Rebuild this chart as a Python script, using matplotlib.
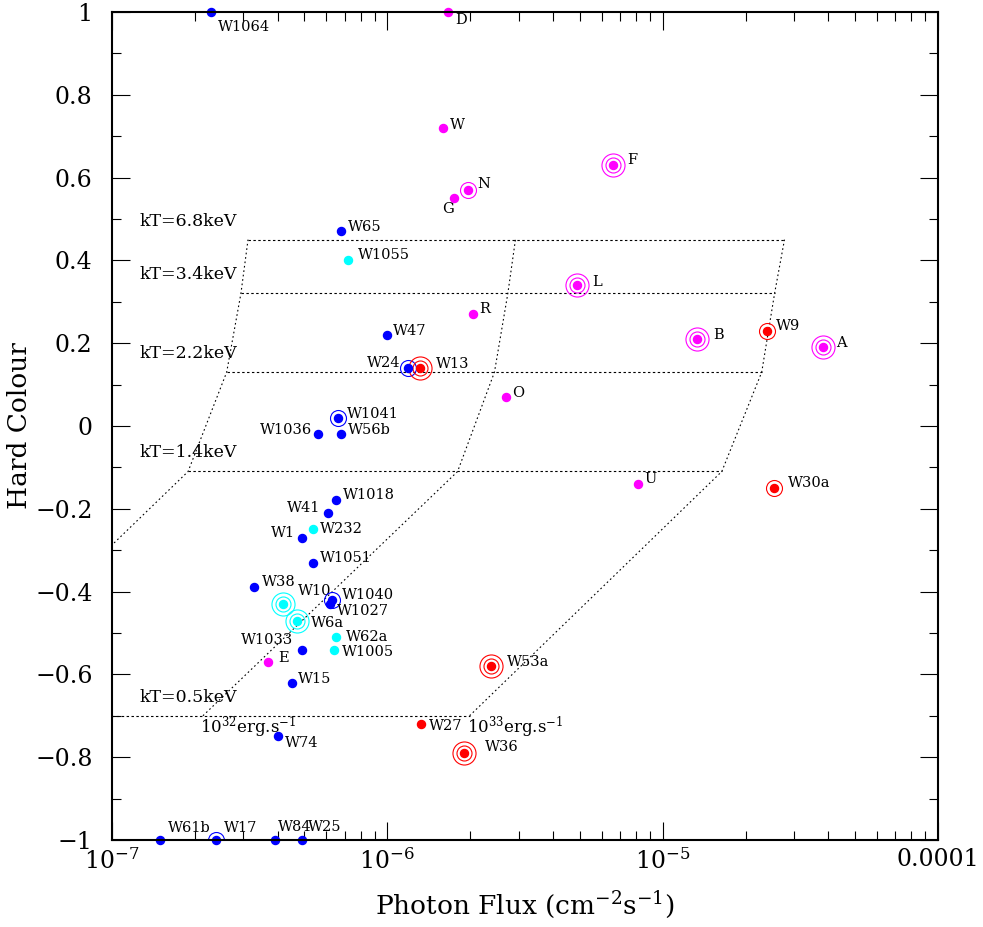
import numpy as np
import matplotlib
matplotlib.use('Agg')
import matplotlib.pyplot as plt
from matplotlib.ticker import FixedLocator, FixedFormatter, MultipleLocator, LogLocator, NullFormatter

plt.rcParams['font.family'] = ['DejaVu Serif']
plt.rcParams['mathtext.fontset'] = 'dejavuserif'

# sources: name, photon flux, hard colour, class colour, number of rings
names = ['W1064', 'D', 'W', 'F', 'N', 'G', 'W65', 'W1055', 'L', 'R', 'W47', 'W9', 'B', 'A',
         'W24', 'W13', 'O', 'W1041', 'W1036', 'W56b', 'U', 'W30a', 'W1018', 'W41', 'W232',
         'W1', 'W1051', 'W38', 'W10', 'W1040', 'W1027', 'W6a', 'W62a', 'W1005', 'W1033',
         'E', 'W53a', 'W15', 'W27', 'W74', 'W36', 'W61b', 'W17', 'W84', 'W25']
flux = [2.29e-7, 1.66e-6, 1.59e-6, 6.58e-6, 1.96e-6, 1.74e-6, 6.78e-7, 7.19e-7, 4.88e-6,
        2.04e-6, 1.0e-6, 2.40e-5, 1.33e-5, 3.81e-5, 1.19e-6, 1.31e-6, 2.69e-6, 6.61e-7,
        5.6e-7, 6.78e-7, 8.11e-6, 2.53e-5, 6.5e-7, 6.08e-7, 5.37e-7, 4.9e-7, 5.37e-7,
        3.28e-7, 4.18e-7, 6.29e-7, 6.2e-7, 4.69e-7, 6.5e-7, 6.4e-7, 4.9e-7, 3.68e-7,
        2.39e-6, 4.5e-7, 1.33e-6, 4.0e-7, 1.90e-6, 1.49e-7, 2.39e-7, 3.9e-7, 4.9e-7]
hc = [1.0, 1.0, 0.72, 0.63, 0.57, 0.55, 0.47, 0.40, 0.34, 0.27, 0.22, 0.23, 0.21, 0.19,
      0.14, 0.14, 0.07, 0.02, -0.02, -0.02, -0.14, -0.15, -0.18, -0.21, -0.25, -0.27,
      -0.33, -0.39, -0.43, -0.42, -0.43, -0.47, -0.51, -0.54, -0.54, -0.57, -0.58,
      -0.62, -0.72, -0.75, -0.79, -1.0, -1.0, -1.0, -1.0]
group = ['b', 'm', 'm', 'm', 'm', 'm', 'b', 'c', 'm', 'm', 'b', 'r', 'm', 'm',
         'b', 'r', 'm', 'b', 'b', 'b', 'm', 'r', 'b', 'b', 'c',
         'b', 'b', 'b', 'c', 'b', 'b', 'c', 'c', 'c', 'b',
         'm', 'r', 'b', 'r', 'b', 'r', 'b', 'b', 'b', 'b']
nring = [0, 0, 0, 2, 1, 0, 0, 0, 2, 0, 0, 1, 2, 2,
         1, 2, 0, 1, 0, 0, 0, 1, 0, 0, 0,
         0, 0, 0, 2, 1, 0, 2, 0, 0, 0,
         0, 2, 0, 0, 0, 2, 0, 1, 0, 0]

# model grid: temperatures and luminosity tracks
kT_text = ['0.5', '1.4', '2.2', '3.4', '6.8']
kT_hc = [-0.70, -0.11, 0.13, 0.32, 0.45]
lum31_flux = [2.28e-8, 1.89e-7, 2.61e-7, 2.94e-7, 3.12e-7]
lum32_flux = [2.14e-7, 1.80e-6, 2.45e-6, 2.74e-6, 2.92e-6]
lum33_flux = [1.99e-6, 1.64e-5, 2.29e-5, 2.55e-5, 2.77e-5]

colours = {'b': '#0000ff', 'm': '#ff00ff', 'c': '#00ffff', 'r': '#ff0000'}

# label offsets in pixels (dx, dy downwards, alignment)
offs = {'W1064': (7, 15, 'left'), 'D': (7, 8, 'left'), 'W': (7, -3, 'left'),
        'F': (15, -5, 'left'), 'N': (10, -6, 'left'), 'G': (-6, 11, 'center'),
        'W65': (7, -4, 'left'), 'W1055': (10, -5, 'left'), 'L': (15, -3, 'left'),
        'R': (7, -5, 'left'), 'W47': (6, -4, 'left'), 'W9': (9, -5, 'left'),
        'B': (16, -4, 'left'), 'A': (14, -4, 'left'), 'W24': (-8, -5, 'right'),
        'W13': (16, -4, 'left'), 'O': (6, -4, 'left'), 'W1041': (9, -4, 'left'),
        'W1036': (-6, -4, 'right'), 'W56b': (7, -4, 'left'), 'U': (7, -5, 'left'),
        'W30a': (14, -5, 'left'), 'W1018': (7, -5, 'left'), 'W41': (-8, -5, 'right'),
        'W232': (7, 0, 'left'), 'W1': (-7, -5, 'right'), 'W1051': (7, -5, 'left'),
        'W38': (8, -5, 'left'), 'W10': (15, -13, 'left'), 'W1040': (10, -5, 'left'),
        'W1027': (7, 7, 'left'), 'W6a': (14, 2, 'left'), 'W62a': (10, 0, 'left'),
        'W1005': (8, 2, 'left'), 'W1033': (-9, -10, 'right'), 'E': (10, -4, 'left'),
        'W53a': (15, -4, 'left'), 'W15': (6, -4, 'left'), 'W27': (8, 2, 'left'),
        'W74': (7, 7, 'left'), 'W36': (21, -6, 'left'), 'W61b': (8, -12, 'left'),
        'W17': (8, -12, 'left'), 'W84': (3, -13, 'left'), 'W25': (6, -13, 'left')}

fig = plt.figure(figsize=(9.83, 9.27), dpi=100)
ax = fig.add_axes([0.1139, 0.0939, 0.8403, 0.8932])
ax.set_xscale('log')
ax.set_xlim(1e-7, 1e-4)
ax.set_ylim(-1, 1)

# grid of models
dash = (0, (2.2, 2.2))
for i in range(len(kT_hc)):
    ax.plot([lum31_flux[i], lum33_flux[i]], [kT_hc[i], kT_hc[i]], color='k', lw=0.8, ls=dash)
    ax.text(1.26e-7, kT_hc[i] + 0.045, 'kT=' + kT_text[i] + 'keV', fontsize=12.5,
            ha='left', va='center')
for track in (lum31_flux, lum32_flux, lum33_flux):
    ax.plot(track, kT_hc, color='k', lw=0.8, ls=(0, (1.5, 2.5)))
ax.text(2.09e-7, -0.727, r'$10^{32}$erg.s$^{-1}$', fontsize=12, ha='left', va='center')
ax.text(1.94e-6, -0.727, r'$10^{33}$erg.s$^{-1}$', fontsize=12, ha='left', va='center')

# sources
for n, x, y, g, r in zip(names, flux, hc, group, nring):
    col = colours[g]
    sizes = {1: [11.5], 2: [10.8, 16.6]}.get(r, [])
    for ms in sizes:
        ring, = ax.plot(x, y, 'o', mfc='none', mec=col, mew=0.8, ms=ms, zorder=3)
        ring.set_clip_path(ax.patch)
    ax.plot(x, y, 'o', color=col, ms=5.8, clip_on=False, zorder=5)
    dx, dy, ha = offs[n]
    ax.annotate(n, (x, y), xytext=(dx, -dy), textcoords='offset pixels',
                fontsize=10.5, ha=ha, va='center', annotation_clip=False)

# axes styling
for s in ax.spines.values():
    s.set_linewidth(1.5)
    s.set_zorder(6)
ax.yaxis.set_major_locator(MultipleLocator(0.2))
ax.yaxis.set_minor_locator(MultipleLocator(0.1))
ax.yaxis.set_major_formatter(matplotlib.ticker.FuncFormatter(
    lambda v, p: '0' if abs(v) < 1e-9 else ('%g' % v).replace('-', '\u2212')))
ax.xaxis.set_major_locator(FixedLocator([1e-7, 1e-6, 1e-5, 1e-4]))
ax.xaxis.set_major_formatter(FixedFormatter([r'$10^{-7}$', r'$10^{-6}$', r'$10^{-5}$', '0.0001']))
ax.xaxis.set_minor_locator(LogLocator(base=10, subs=np.arange(2, 10)))
ax.xaxis.set_minor_formatter(NullFormatter())
ax.tick_params(which='both', direction='in', top=True, right=True, width=0.8)
ax.tick_params(which='major', length=13)
ax.tick_params(which='minor', length=6.5)
ax.tick_params(axis='x', labelsize=17, pad=6)
ax.tick_params(axis='y', labelsize=17, pad=14)

ax.set_xlabel(r'Photon Flux (cm$^{-2}$s$^{-1}$)', fontsize=19, labelpad=11)
ax.set_ylabel('Hard Colour', fontsize=19, labelpad=2)

fig.savefig('out.png', dpi=100)
